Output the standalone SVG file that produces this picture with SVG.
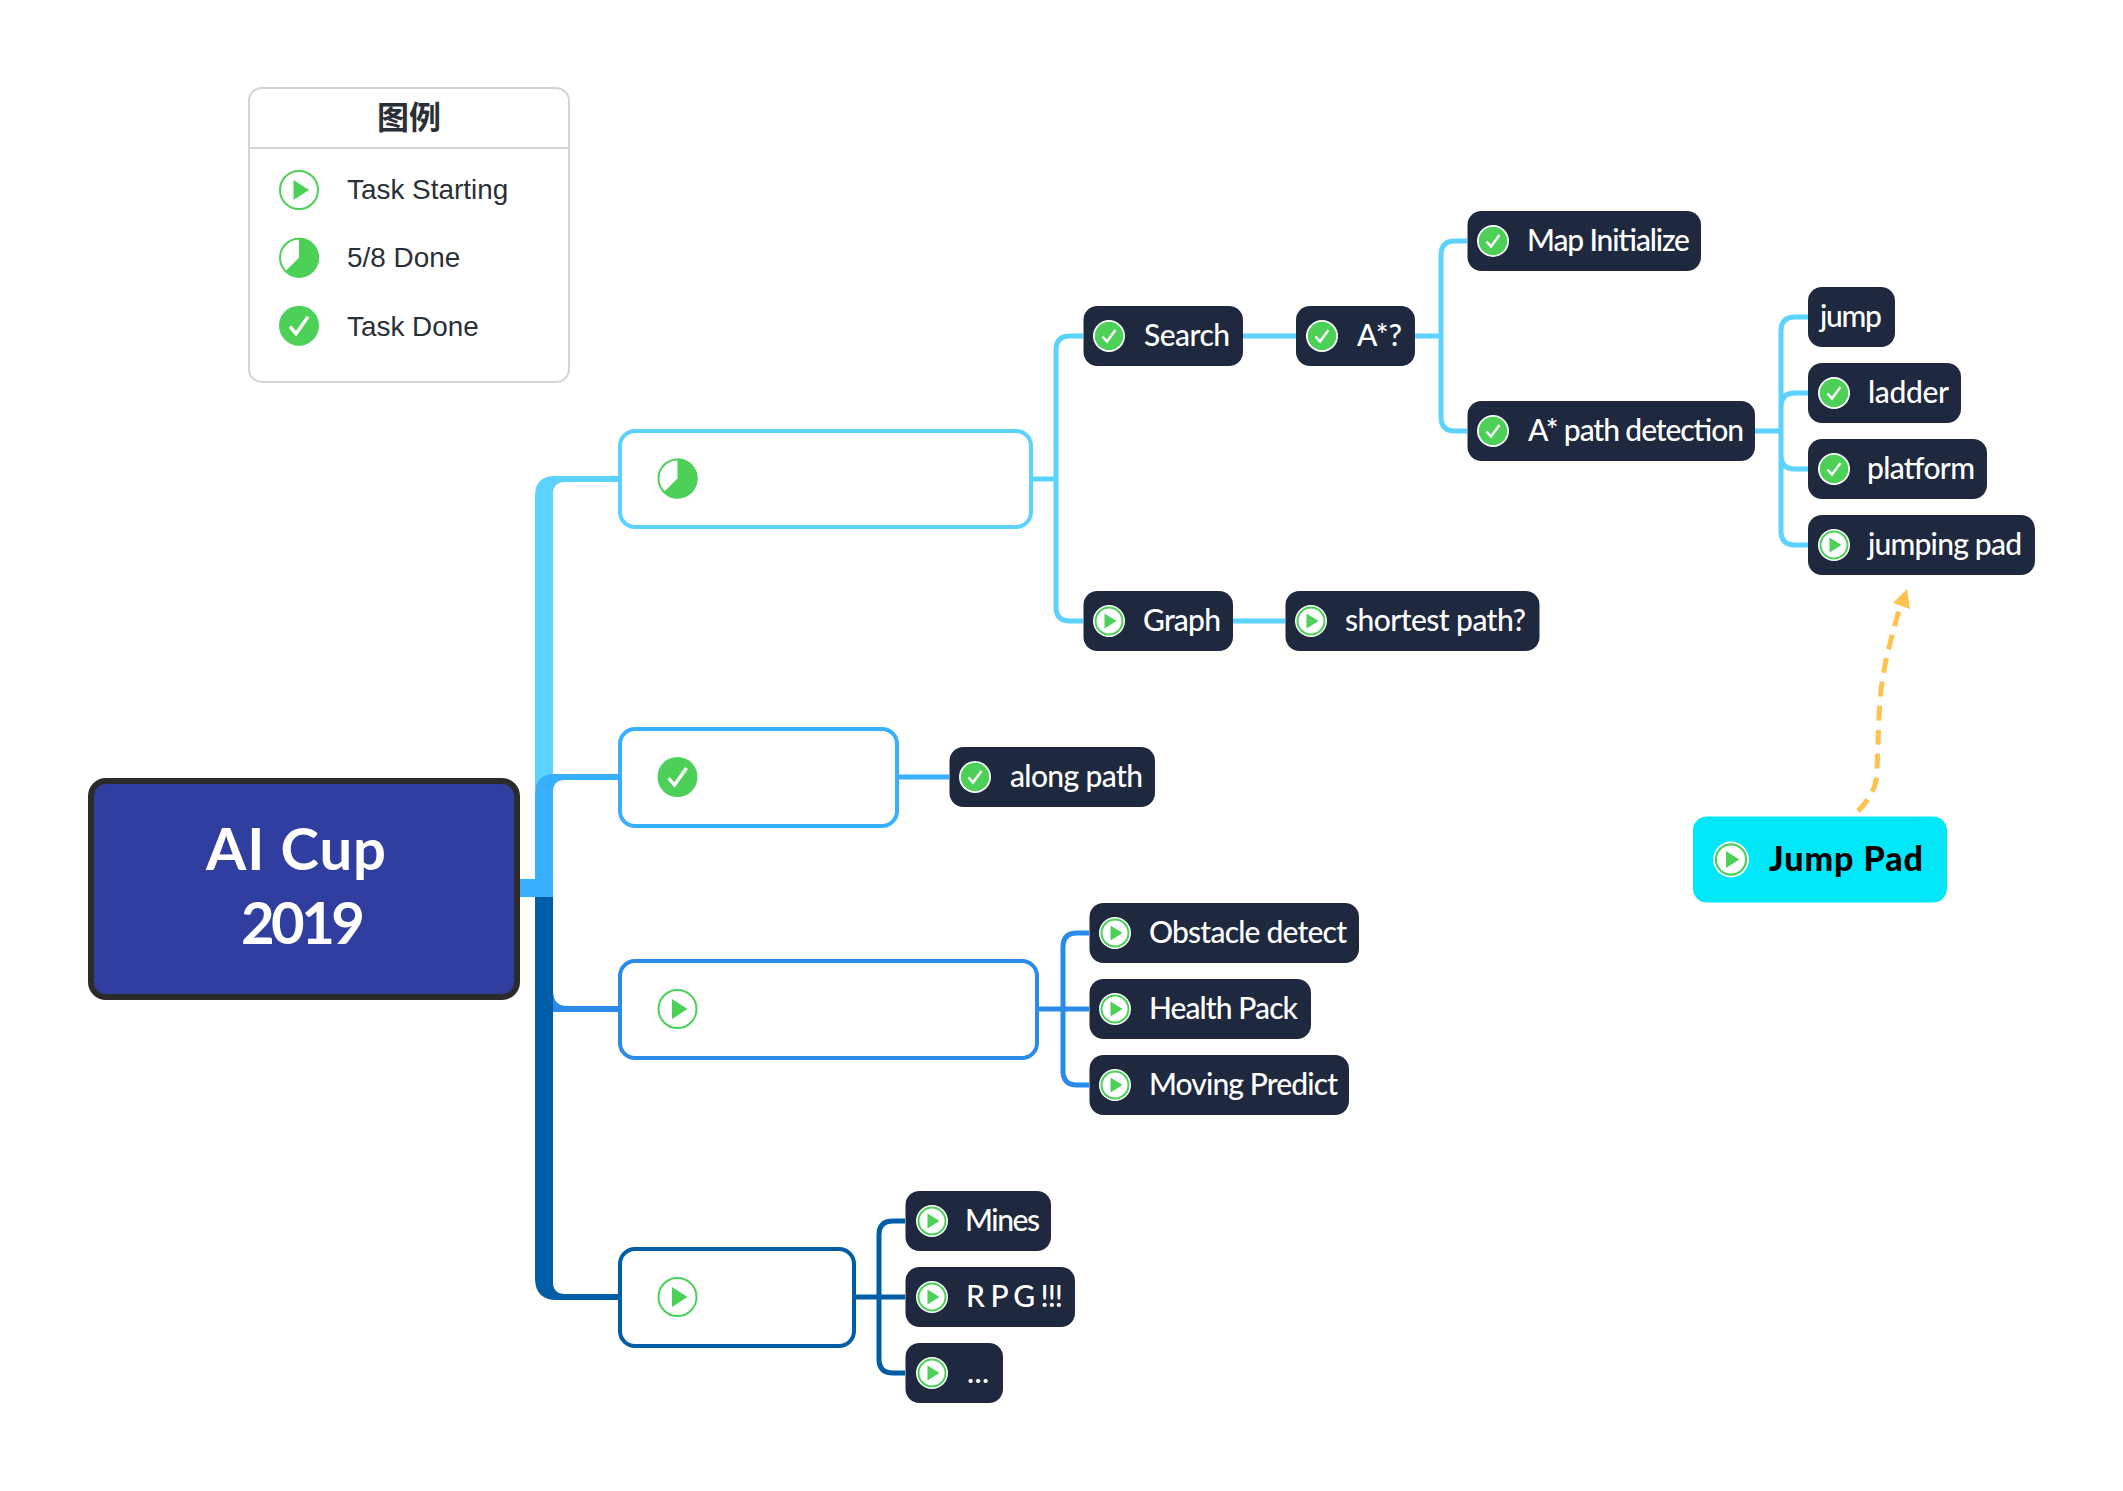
<svg xmlns="http://www.w3.org/2000/svg" xmlns:xlink="http://www.w3.org/1999/xlink" width="2123" height="1491" viewBox="0 0 2123 1491">
<style>
.c{fill:none;stroke-width:5;}
.l{stroke:#5cd3ff}.m{stroke:#38b0ff}.b{stroke:#2a8ce8}.d{stroke:#005da6}
.n{fill:#1e2940}
.t{font-family:Lato,"Noto Sans",sans-serif;font-size:30px;font-weight:500;fill:#fff}
.box{fill:#fff;stroke-width:4}
.lg{font-family:"Liberation Sans",Arial,sans-serif;font-size:27.9px;fill:#2b2f36}
</style>
<defs>
<g id="ico-done"><circle r="16" fill="#fff"/><circle r="14.2" fill="#4dd058"/><path d="M-6.5,0.5 L-2,5.5 L6.5,-6" fill="none" stroke="#fff" stroke-width="2.4"/></g>
<g id="ico-start"><circle r="16" fill="#fff"/><circle r="13.5" fill="#fff" stroke="#4dd058" stroke-width="2"/><path d="M-4.5,-7.5 L7.5,0 L-4.5,7.5 Z" fill="#4dd058"/></g>
<g id="ico-start-l"><circle r="19" fill="#fff" stroke="#4dd058" stroke-width="2"/><path d="M-5.5,-10 L10,0 L-5.5,10 Z" fill="#4dd058"/></g>
<g id="ico-part-l"><circle r="19" fill="#fff" stroke="#4dd058" stroke-width="2"/><path d="M0,0 V-20 A20,20 0 1 1 -14.1,14.1 Z" fill="#4dd058"/></g>
<g id="ico-done-l"><circle r="20" fill="#4dd058"/><path d="M-9,1 L-3,8 L9,-9" fill="none" stroke="#fff" stroke-width="3.4"/></g>
</defs>
<rect width="2123" height="1491" fill="#fff"/>

<g id="connectors">
<path fill="#5cd3ff" d="M535,790 V496 Q535,476 555,476 H619 V482 H565 Q553,482 553,494 V790 Z"/>
<path fill="#38b0ff" d="M535,897 V794 Q535,774 555,774 H619 V780 H565 Q553,780 553,792 V897 Z"/>
<rect x="518" y="879" width="35" height="18" fill="#38b0ff"/>
<path fill="#2a8ce8" d="M545,990 H553 Q553,1006 567,1006 H619 V1012 H545 Z"/>
<path fill="#005da6" d="M535,897 V1278 Q535,1300 557,1300 H619 V1294 H565 Q553,1294 553,1282 V897 Z"/>

<path class="c l" d="M1031,479 H1056 M1083,336 H1070 Q1056,336 1056,350 V607 Q1056,621 1070,621 H1083"/>
<path class="c l" d="M1243,336 H1296 M1233,621 H1285"/>
<path class="c l" d="M1415,336 H1441 M1467,241 H1455 Q1441,241 1441,255 V417 Q1441,431 1455,431 H1467"/>
<path class="c l" d="M1755,431 H1781 M1808,317 H1795 Q1781,317 1781,331 V531 Q1781,545 1795,545 H1808 M1808,393 H1795 Q1781,393 1781,407 V455 Q1781,469 1795,469 H1808"/>
<path class="c m" d="M897,777 H949"/>
<path class="c b" d="M1036,1009 H1089 M1089,933 H1077 Q1063,933 1063,947 V1071 Q1063,1085 1077,1085 H1089"/>
<path class="c d" d="M854,1297 H905 M905,1221 H893 Q879,1221 879,1235 V1359 Q879,1373 893,1373 H905"/>
<path fill="none" stroke="#ffc14f" stroke-width="5" stroke-dasharray="15 9" d="M1858,811 C1872,797 1877,785 1877,770 C1878,750 1878,730 1880,700 C1883,665 1891,640 1899,610"/>
<path fill="#ffc14f" d="M1907,589 L1910,609 L1893,603 Z"/>
</g>

<g id="legend">
<rect x="249" y="88" width="320" height="294" rx="13" fill="#fff" stroke="#d4d4d4" stroke-width="2"/>
<path d="M249,148 H569" stroke="#d4d4d4" stroke-width="2"/>
<text x="409" y="129" text-anchor="middle" font-family="'Noto Sans CJK SC',sans-serif" font-size="32" font-weight="700" fill="#2b2f36">图例</text>
<use href="#ico-start-l" x="299" y="190"/><text class="lg" x="347" y="199">Task Starting</text>
<use href="#ico-part-l" x="299" y="257.7"/><text class="lg" x="347" y="267">5/8 Done</text>
<use href="#ico-done-l" x="299" y="325.7"/><text class="lg" x="347" y="335.5">Task Done</text>
</g>

<g id="central">
<rect x="91" y="781" width="426" height="216" rx="15" fill="#303f9f" stroke="#2b2b2b" stroke-width="6"/>
<text x="206" y="870" font-family="Lato,sans-serif" font-size="58" font-weight="700" fill="#fff" textLength="180">AI Cup</text>
<text x="241" y="944" font-family="Lato,sans-serif" font-size="58" font-weight="700" fill="#fff" textLength="124">2019</text>
</g>

<g id="topic1"><rect class="box l" x="620" y="431" width="411" height="96" rx="15"/><use href="#ico-part-l" x="677.5" y="478.5"/></g>
<g id="topic2"><rect class="box m" x="620" y="729" width="277" height="97" rx="15"/><use href="#ico-done-l" x="677.5" y="777"/></g>
<g id="topic3"><rect class="box b" x="620" y="961" width="417" height="97" rx="15"/><use href="#ico-start-l" x="677.5" y="1009"/></g>
<g id="topic4"><rect class="box d" x="620" y="1249" width="234" height="97" rx="15"/><use href="#ico-start-l" x="677.5" y="1297"/></g>

<g id="n-search"><rect class="n" x="1083.5" y="306" width="159.5" height="60" rx="14"/><use href="#ico-done" x="1109" y="336"/><text class="t" x="1144" y="346" textLength="86">Search</text></g>
<g id="n-astar"><rect class="n" x="1296" y="306" width="119" height="60" rx="14"/><use href="#ico-done" x="1322" y="336"/><text class="t" x="1357" y="346" textLength="45">A*?</text></g>
<g id="n-map"><rect class="n" x="1467.5" y="211" width="233.5" height="60" rx="14"/><use href="#ico-done" x="1493" y="241"/><text class="t" x="1527" y="251" textLength="163">Map Initialize</text></g>
<g id="n-path"><rect class="n" x="1467.5" y="401" width="287.5" height="60" rx="14"/><use href="#ico-done" x="1493" y="431"/><text class="t" x="1528" y="441" textLength="216">A* path detection</text></g>
<g id="n-jump"><rect class="n" x="1808" y="287" width="87" height="60" rx="14"/><text class="t" x="1820" y="327" textLength="62">jump</text></g>
<g id="n-ladder"><rect class="n" x="1808" y="363" width="153" height="60" rx="14"/><use href="#ico-done" x="1834" y="393"/><text class="t" x="1868" y="403" textLength="81">ladder</text></g>
<g id="n-platform"><rect class="n" x="1808" y="439" width="179" height="60" rx="14"/><use href="#ico-done" x="1834" y="469"/><text class="t" x="1867" y="479" textLength="108">platform</text></g>
<g id="n-jumping"><rect class="n" x="1808" y="515" width="227" height="60" rx="14"/><use href="#ico-start" x="1834" y="545"/><text class="t" x="1868" y="555" textLength="154">jumping pad</text></g>
<g id="n-graph"><rect class="n" x="1083.5" y="591" width="149.5" height="60" rx="14"/><use href="#ico-start" x="1109" y="621"/><text class="t" x="1143" y="631" textLength="78">Graph</text></g>
<g id="n-shortest"><rect class="n" x="1285.5" y="591" width="254" height="60" rx="14"/><use href="#ico-start" x="1311" y="621"/><text class="t" x="1345" y="631" textLength="181">shortest path?</text></g>
<g id="n-along"><rect class="n" x="949.5" y="747" width="205.5" height="60" rx="14"/><use href="#ico-done" x="975" y="777"/><text class="t" x="1010" y="787" textLength="133">along path</text></g>
<g id="n-obstacle"><rect class="n" x="1089.5" y="903" width="269.5" height="60" rx="14"/><use href="#ico-start" x="1115" y="933"/><text class="t" x="1149" y="943" textLength="198">Obstacle detect</text></g>
<g id="n-health"><rect class="n" x="1089.5" y="979" width="221.5" height="60" rx="14"/><use href="#ico-start" x="1115" y="1009"/><text class="t" x="1149" y="1019" textLength="149">Health Pack</text></g>
<g id="n-moving"><rect class="n" x="1089.5" y="1055" width="259.5" height="60" rx="14"/><use href="#ico-start" x="1115" y="1085"/><text class="t" x="1149" y="1095" textLength="189">Moving Predict</text></g>
<g id="n-mines"><rect class="n" x="905.5" y="1191" width="145.5" height="60" rx="14"/><use href="#ico-start" x="932" y="1221"/><text class="t" x="965" y="1231" textLength="75">Mines</text></g>
<g id="n-rpg"><rect class="n" x="905.5" y="1267" width="169.5" height="60" rx="14"/><use href="#ico-start" x="932" y="1297"/><text class="t" x="966" y="1307" textLength="97">R P G !!!</text></g>
<g id="n-more"><rect class="n" x="905.5" y="1343" width="97.5" height="60" rx="14"/><use href="#ico-start" x="932" y="1373"/><text class="t" x="967" y="1383" textLength="22">...</text></g>

<g id="n-jumppad"><rect x="1693" y="816.5" width="254" height="86" rx="14" fill="#00e8f8"/><use href="#ico-start" x="0" y="0" transform="translate(1731 859.5) scale(1.12)"/><text x="1769" y="871" font-family="Lato,sans-serif" font-size="34" font-weight="900" fill="#000" textLength="154">Jump Pad</text></g>
</svg>
